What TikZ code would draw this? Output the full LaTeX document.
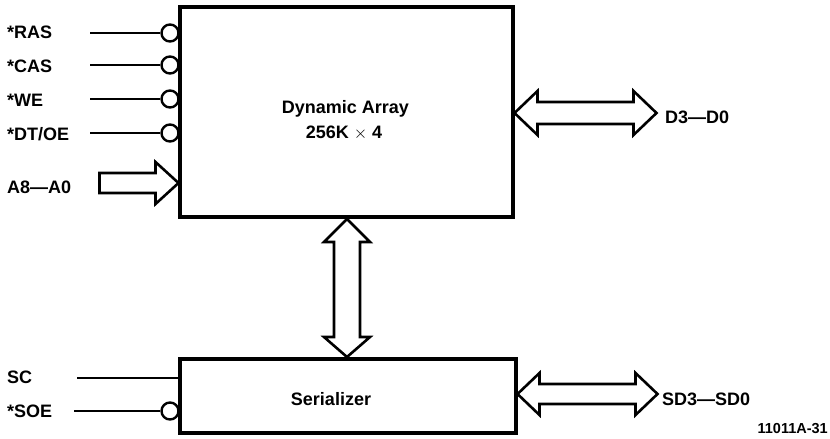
\documentclass[tikz,border=0pt]{standalone}
\usepackage{fontspec}
\setmainfont{Liberation Sans}
\begin{document}
\begin{tikzpicture}[x=1pt,y=-1pt,
  box/.style={draw,line width=3.6pt,inner sep=0pt},
  bub/.style={draw,circle,line width=2.4pt,minimum size=17pt,inner sep=0pt},
  sig/.style={line width=2.4pt},
  bus/.style={draw,line width=2.6pt,line join=miter,fill=white},
  lab/.style={font=\fontsize{18}{20}\selectfont\bfseries,inner sep=0pt},
  small/.style={font=\fontsize{14.5}{16}\selectfont\bfseries,inner sep=0pt}]
\useasboundingbox (0,0) rectangle (830,439);
% boxes
\node[box,minimum width=333pt,minimum height=210pt] (arr) at (346.5,112) {};
\node[box,minimum width=336pt,minimum height=74pt] (ser) at (348,396) {};
\node[lab,anchor=base] (t1) at (345.5,113) {Dynamic Array};
\node[lab,anchor=base] (t2) at (344,138) {256K $\times$ 4};
\node[lab,anchor=base] (t3) at (331,405) {Serializer};
% control inputs with bubbles
\foreach \n/\t/\y/\b in {ras/*RAS/33/38,cas/*CAS/65/72,we/*WE/99/106,dt/*DT\slash OE/133/140}{
  \node[bub] (b\n) at (170,\y) {};
  \coordinate (s\n) at (90,\y);
  \draw[sig] (s\n) -- (b\n.west);
  \node[lab,anchor=base west] (l\n) at (7,\b) {\t};
}
% A8-A0
\node[lab,anchor=base west] (la) at (7,193) {A8---A0};
\coordinate (atip) at (178.5,183);
\draw[bus] (atip) -- ++(-23,-21) -- ++(0,11) -- ++(-56,0) -- ++(0,20) -- ++(56,0) -- ++(0,11) -- cycle;
% D3-D0
\coordinate (dtip) at (514.5,113);
\draw[bus] (dtip) -- ++(23,-22) -- ++(0,11) -- ++(96,0) -- ++(0,-11) -- ++(23,22)
  -- ++(-23,22) -- ++(0,-11) -- ++(-96,0) -- ++(0,11) -- cycle;
\node[lab,anchor=base west] (ld) at (665,123) {D3---D0};
% vertical bus
\coordinate (vtop) at (347,219);
\draw[bus] (vtop) -- ++(23,23) -- ++(-10,0) -- ++(0,95) -- ++(10,0) -- ++(-23,20)
  -- ++(-23,-20) -- ++(10,0) -- ++(0,-95) -- ++(-10,0) -- cycle;
% serializer inputs
\node[lab,anchor=base west] (lsc) at (7,383) {SC};
\coordinate (ssc) at (77,378);
\draw[sig] (ssc) -- (ssc -| ser.west);
\node[lab,anchor=base west] (lsoe) at (7,417) {*SOE};
\node[bub] (bsoe) at (170,411) {};
\coordinate (ssoe) at (74,411);
\draw[sig] (ssoe) -- (bsoe.west);
% SD3-SD0
\coordinate (sdtip) at (517.5,394);
\draw[bus] (sdtip) -- ++(22,-21) -- ++(0,11) -- ++(96,0) -- ++(0,-11) -- ++(22,21)
  -- ++(-22,21) -- ++(0,-11) -- ++(-96,0) -- ++(0,11) -- cycle;
\node[lab,anchor=base west] (lsd) at (662,405) {SD3---SD0};
\node[small,anchor=base east] (code) at (828,433) {11011A-31};
\end{tikzpicture}
\end{document}
